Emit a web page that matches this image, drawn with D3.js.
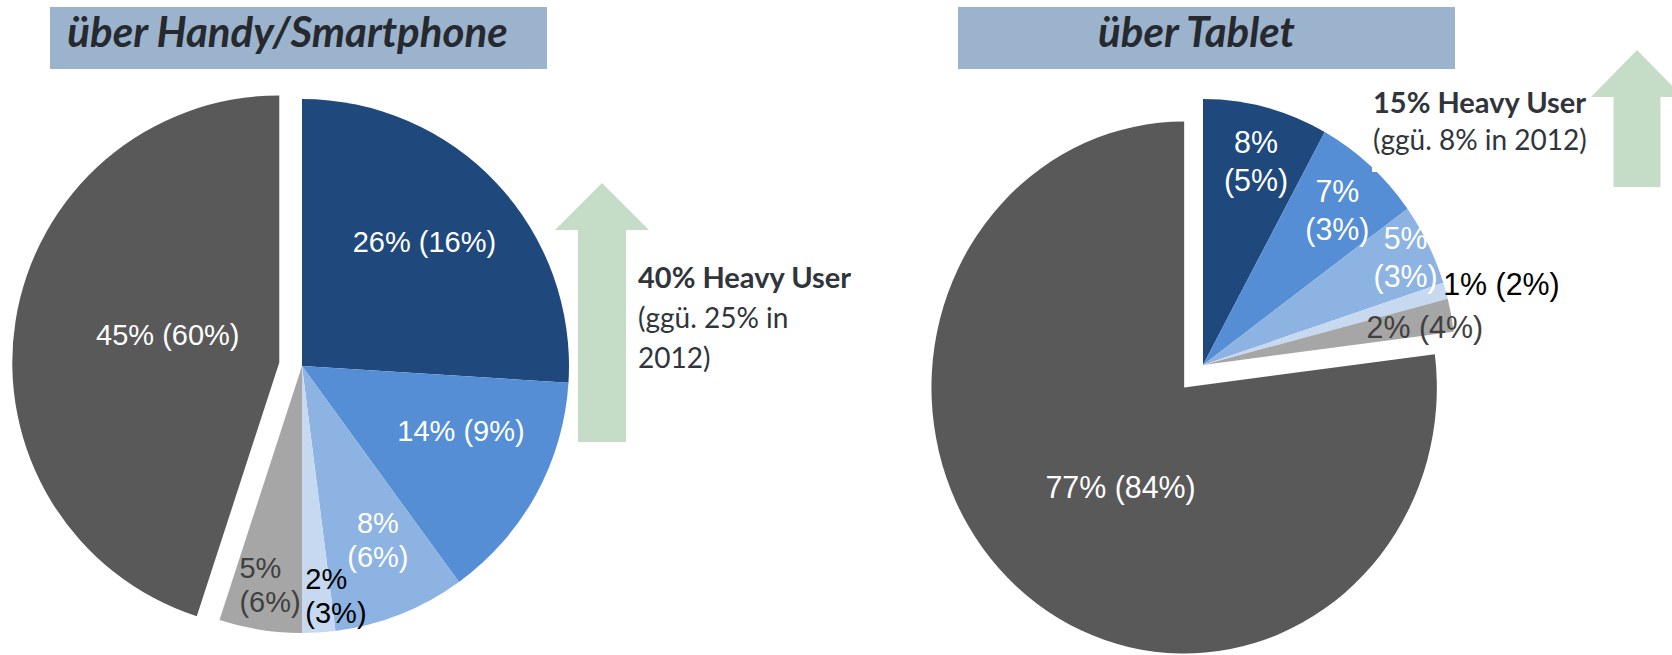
<!DOCTYPE html>
<html>
<head>
<meta charset="utf-8">
<script src="https://cdn.jsdelivr.net/npm/d3@7"></script>
<style>
  body { margin: 0; background: #fff; }
  svg { display: block; }
</style>
</head>
<body>
<script>
// slice order, clockwise from 12 o'clock
const categories = ["k1", "k2", "k3", "k4", "k5", "k6"];
const phoneValues = [26, 14, 8, 2, 5, 45];
const phonePrev = [16, 9, 6, 3, 6, 60];
const tabletValues = [8, 7, 5, 1, 2, 77];
const tabletPrev = [5, 3, 3, 2, 4, 84];
const titles = ["über Handy/Smartphone", "über Tablet"];
const heavyNow = [40, 15];
const heavyPrev = [25, 8];
const heavyYear = 2012;

const colors = ["#1f497d", "#558ed5", "#8db3e2", "#c6d9f1", "#a6a6a6", "#595959"];

const width = 1672, height = 655;

const svg = d3.select("body").append("svg")
  .attr("width", width)
  .attr("height", height);

const color = d3.scaleOrdinal().domain(categories).range(colors);

// label placement: f = radius fraction, da = angle shift in degrees
const charts = [
  {
    values: phoneValues, prev: phonePrev, title: titles[0],
    cx: 302, cy: 366, r: 267, sx: 1, explode: {5: 23},
    fontSize: 29, lineH: 34,
    box: {x: 50, y: 7, w: 497, h: 62}, titleShift: -11,
    labels: [
      {f: 0.654, da: -2.3},
      {f: 0.643, da: -6.6},
      {f: 0.71, da: -2, split: true},
      {f: 0.87, da: -4.8, split: true, start: true, fill: "#000"},
      {f: 0.83, da: -0.7, split: true, start: true, fill: "#404040"},
      {f: 0.43, da: 4.8}
    ]
  },
  {
    values: tabletValues, prev: tabletPrev, title: titles[1],
    cx: 1203, cy: 365, r: 266, sx: 0.95, explode: {5: 30},
    fontSize: 32, lineH: 38,
    box: {x: 958, y: 7, w: 497, h: 62}, titleShift: -10,
    labels: [
      {f: 0.795, da: 0.9, split: true},
      {f: 0.79, da: 0.9, split: true},
      {f: 0.9, da: 0, split: true},
      {f: 1.22, da: 1.7, fill: "#000"},
      {f: 0.89, da: 1.4, fill: "#404040"},
      {f: 0.45, da: -7.4}
    ]
  }
];

const pie = d3.pie().sort(null).value(d => d.v);

charts.forEach(c => {
  // title box
  svg.append("rect")
    .attr("x", c.box.x).attr("y", c.box.y)
    .attr("width", c.box.w).attr("height", c.box.h)
    .attr("fill", "#9bb3cd");
  svg.append("text")
    .attr("x", c.box.x + c.box.w / 2 + c.titleShift)
    .attr("y", 47)
    .attr("text-anchor", "middle")
    .attr("font-family", "Lato")
    .attr("font-weight", "bold")
    .attr("font-style", "italic")
    .attr("font-size", 42)
    .attr("fill", "#26292e")
    .text(c.title);

  const data = pie(c.values.map((v, i) => ({v: v, p: c.prev[i], k: categories[i]})));
  const arc = d3.arc().innerRadius(0).outerRadius(c.r);

  const g = svg.append("g")
    .attr("transform", "translate(" + c.cx + "," + c.cy + ") scale(" + c.sx + ",1)");

  const offset = (d, i) => {
    const e = c.explode[i] || 0;
    const mid = (d.startAngle + d.endAngle) / 2;
    return [e * Math.sin(mid), -e * Math.cos(mid)];
  };

  g.selectAll(".slice")
    .data(data)
    .enter()
    .append("path")
    .attr("class", "slice")
    .attr("transform", (d, i) => "translate(" + offset(d, i) + ")")
    .attr("d", arc)
    .attr("fill", d => color(d.data.k));

  data.forEach((d, i) => {
    const L = c.labels[i];
    const shift = L.da * Math.PI / 180;
    const la = d3.arc().innerRadius(c.r * L.f).outerRadius(c.r * L.f);
    const o = offset(d, i);
    const pt = la.centroid({startAngle: d.startAngle + shift, endAngle: d.endAngle + shift});
    const px = pt[0] + o[0], py = pt[1] + o[1];
    const lines = L.split
      ? [d.data.v + "%", "(" + d.data.p + "%)"]
      : [d.data.v + "% (" + d.data.p + "%)"];

    const t = g.append("text")
      .attr("font-family", "Liberation Sans, Arial, sans-serif")
      .attr("font-size", c.fontSize)
      .attr("fill", L.fill || "#fff")
      .attr("text-anchor", L.start ? "start" : "middle");

    const spans = lines.map((s, j) => t.append("tspan")
      .attr("x", px)
      .attr("y", py + (j - (lines.length - 1) / 2) * c.lineH + 0.35 * c.fontSize)
      .text(s));

    if (L.start) {
      const w = d3.max(spans, s => s.node().getComputedTextLength());
      spans.forEach(s => s.attr("x", px - w / 2));
    }
  });
});

// white text box of the tablet note covers a corner of the pie
svg.append("rect")
  .attr("x", 1372).attr("y", 76)
  .attr("width", 190).attr("height", 96)
  .attr("fill", "#fff");

// green arrows
function arrow(tipX, tipY, headW, headBase, shaftW, bottom) {
  const pts = [
    [tipX, tipY], [tipX + headW, headBase], [tipX + shaftW, headBase],
    [tipX + shaftW, bottom], [tipX - shaftW, bottom], [tipX - shaftW, headBase],
    [tipX - headW, headBase]
  ];
  svg.append("path")
    .attr("d", d3.line()(pts) + "Z")
    .attr("fill", "#c5dcc7");
}
arrow(602, 183, 47, 230, 24, 442);
arrow(1637, 50, 46, 97, 23.5, 187);

// heavy user notes
function note(x, y, lines, lh) {
  const t = svg.append("text")
    .attr("font-family", "Lato")
    .attr("font-size", 28)
    .attr("fill", "#30343b");
  lines.forEach((s, j) => {
    t.append("tspan")
      .attr("x", x)
      .attr("y", y + j * lh)
      .attr("font-weight", j === 0 ? "bold" : "normal")
      .attr("font-size", j === 0 ? 29 : 28)
      .text(s);
  });
}
note(638, 288, [
  heavyNow[0] + "% Heavy User",
  "(ggü. " + heavyPrev[0] + "% in",
  heavyYear + ")"
], 40);
note(1373, 113, [
  heavyNow[1] + "% Heavy User",
  "(ggü. " + heavyPrev[1] + "% in " + heavyYear + ")"
], 37);
</script>
</body>
</html>
